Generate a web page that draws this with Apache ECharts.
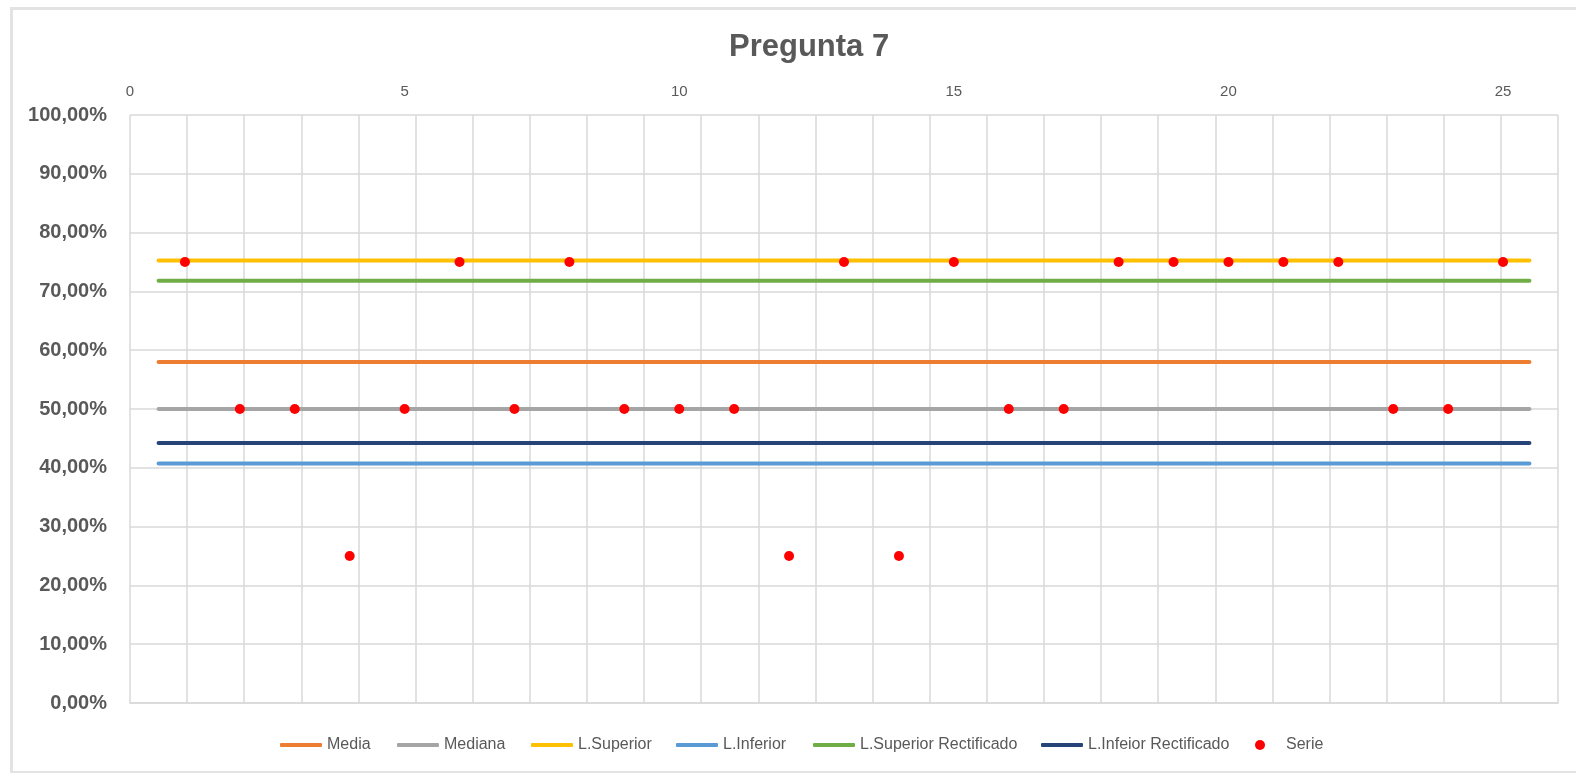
<!DOCTYPE html>
<html>
<head>
<meta charset="utf-8">
<script src="https://cdn.jsdelivr.net/npm/echarts@6/dist/echarts.min.js"></script>
<style>
html,body{margin:0;padding:0;background:#fff;}
#main{width:1576px;height:773px;}
</style>
</head>
<body>
<div id="main"></div>
<script>
// ---- data ----
const categories = ['1','2','3','4','5','6','7','8','9','10','11','12','13','14','15','16','17','18','19','20','21','22','23','24','25'];
const media       = [58,58,58,58,58,58,58,58,58,58,58,58,58,58,58,58,58,58,58,58,58,58,58,58,58];
const mediana     = [50,50,50,50,50,50,50,50,50,50,50,50,50,50,50,50,50,50,50,50,50,50,50,50,50];
const lSuperior   = [75.26,75.26,75.26,75.26,75.26,75.26,75.26,75.26,75.26,75.26,75.26,75.26,75.26,75.26,75.26,75.26,75.26,75.26,75.26,75.26,75.26,75.26,75.26,75.26,75.26];
const lInferior   = [40.74,40.74,40.74,40.74,40.74,40.74,40.74,40.74,40.74,40.74,40.74,40.74,40.74,40.74,40.74,40.74,40.74,40.74,40.74,40.74,40.74,40.74,40.74,40.74,40.74];
const lSupRect    = [71.8,71.8,71.8,71.8,71.8,71.8,71.8,71.8,71.8,71.8,71.8,71.8,71.8,71.8,71.8,71.8,71.8,71.8,71.8,71.8,71.8,71.8,71.8,71.8,71.8];
const lInfRect    = [44.2,44.2,44.2,44.2,44.2,44.2,44.2,44.2,44.2,44.2,44.2,44.2,44.2,44.2,44.2,44.2,44.2,44.2,44.2,44.2,44.2,44.2,44.2,44.2,44.2];
const serieX      = [1,2,3,4,5,6,7,8,9,10,11,12,13,14,15,16,17,18,19,20,21,22,23,24,25];
const serieY      = [75,50,50,25,50,75,50,75,50,50,50,25,75,25,75,50,50,75,75,75,75,75,50,50,75];
const topTicks    = [0,5,10,15,20,25];

const FONT = 'Liberation Sans';
const GRAY_TXT = '#595959';
const GRID = '#d9d9d9';

const lineDefs = [
  {name:'Media', data:media, color:'#ED7D31', legendX:275},
  {name:'Mediana', data:mediana, color:'#A5A5A5', legendX:392},
  {name:'L.Superior', data:lSuperior, color:'#FFC000', legendX:526},
  {name:'L.Inferior', data:lInferior, color:'#5B9BD5', legendX:671},
  {name:'L.Superior Rectificado', data:lSupRect, color:'#70AD47', legendX:808},
  {name:'L.Infeior Rectificado', data:lInfRect, color:'#264478', legendX:1036}
];

const series = lineDefs.map(d => ({
  name: d.name, type:'line', xAxisIndex:0, yAxisIndex:0,
  data: d.data, symbol:'none', silent:true,
  lineStyle:{color:d.color, width:4, cap:'round'},
  itemStyle:{color:d.color}
}));
series.push({
  name:'Serie', type:'scatter', xAxisIndex:1, yAxisIndex:0,
  data: serieX.map((x,i)=>[x, serieY[i]]),
  symbol:'circle', symbolSize:10, itemStyle:{color:'#FF0000', opacity:1}, z:5
});

const legends = lineDefs.map(d => ({
  data:[d.name], left:d.legendX, top:732, orient:'horizontal',
  icon:'roundRect', itemWidth:42, itemHeight:4, selectedMode:false,
  textStyle:{fontFamily:FONT, fontSize:16, color:GRAY_TXT}
}));
legends.push({
  data:[{name:'Serie', icon:'circle'}], left:1250, top:732,
  itemWidth:42, itemHeight:10, selectedMode:false,
  itemStyle:{color:'#FF0000', opacity:1},
  textStyle:{fontFamily:FONT, fontSize:16, color:GRAY_TXT}
});

const chart = echarts.init(document.getElementById('main'), null, {renderer:'canvas'});
chart.setOption({
  animation:false,
  backgroundColor:'#fff',
  title:{text:'Pregunta 7', left:724, top:27,
    textStyle:{fontFamily:FONT, fontSize:31, fontWeight:'bold', color:GRAY_TXT}},
  legend: legends,
  grid:{left:130, right:18, top:115, bottom:70, containLabel:false},
  xAxis:[
    {type:'category', data:categories, position:'bottom', boundaryGap:true,
     axisLine:{show:true, lineStyle:{color:GRID, width:1.5}},
     axisTick:{show:false}, axisLabel:{show:false},
     splitLine:{show:true, interval:0, lineStyle:{color:GRID, width:1.5}}},
    {type:'value', position:'top', min:0, max:26, interval:5,
     axisLine:{show:false}, axisTick:{show:false}, splitLine:{show:false},
     axisLabel:{show:true, margin:16, fontFamily:FONT, fontSize:15, color:GRAY_TXT,
       formatter: v => topTicks.indexOf(v) >= 0 ? String(v) : ''}}
  ],
  yAxis:[
    {type:'value', min:0, max:100, interval:10,
     axisLine:{show:false}, axisTick:{show:false},
     axisLabel:{margin:23, fontFamily:FONT, fontSize:20, fontWeight:'bold', color:GRAY_TXT,
       formatter: v => v.toFixed(2).replace('.', ',') + '%'},
     splitLine:{show:true, lineStyle:{color:GRID, width:1.5}}}
  ],
  graphic:[
    {type:'rect', silent:true, z:-10,
     shape:{x:11.5, y:8.5, width:1600, height:764},
     style:{fill:null, stroke:'#e3e3e3', lineWidth:3}}
  ],
  series: series
});
</script>
</body>
</html>
